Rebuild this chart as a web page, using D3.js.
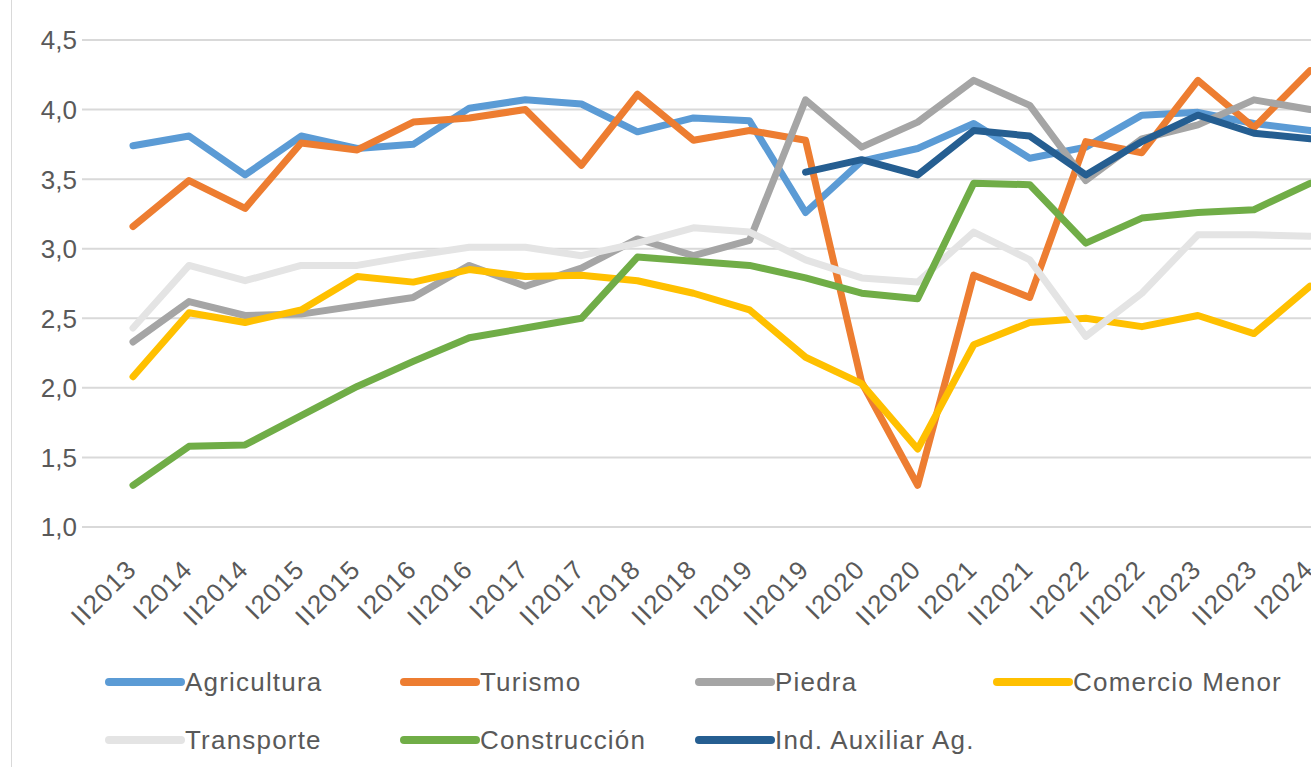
<!DOCTYPE html>
<html lang="es">
<head>
<meta charset="utf-8">
<title>Indicadores por sector</title>
<script src="https://d3js.org/d3.v7.min.js"></script>
<style>
  body { margin: 0; background: #fff; }
  svg { display: block; font-family: "Liberation Sans", Arial, sans-serif; }
  .tick-label { fill: #595959; font-size: 26px; }
  .legend-label { fill: #595959; font-size: 26px; letter-spacing: 1.2px; }
</style>
</head>
<body>
<div id="chart"></div>
<script>
const periods = ["II2013","I2014","II2014","I2015","II2015","I2016","II2016","I2017","II2017","I2018","II2018",
                 "I2019","II2019","I2020","II2020","I2021","II2021","I2022","II2022","I2023","II2023","I2024"];

const agricultura  = [3.74,3.81,3.53,3.81,3.72,3.75,4.01,4.07,4.04,3.84,3.94,3.92,3.26,3.63,3.72,3.90,3.65,3.73,3.96,3.98,3.90,3.85];
const turismo      = [3.16,3.49,3.29,3.76,3.71,3.91,3.94,4.00,3.60,4.11,3.78,3.85,3.78,2.04,1.30,2.81,2.65,3.77,3.69,4.21,3.87,4.28];
const piedra       = [2.33,2.62,2.52,2.53,2.59,2.65,2.88,2.73,2.86,3.07,2.95,3.06,4.07,3.73,3.91,4.21,4.03,3.49,3.79,3.89,4.07,4.00];
const comercio     = [2.08,2.54,2.47,2.56,2.80,2.76,2.85,2.80,2.81,2.77,2.68,2.56,2.22,2.03,1.56,2.31,2.47,2.50,2.44,2.52,2.39,2.73];
const transporte   = [2.43,2.88,2.77,2.88,2.88,2.95,3.01,3.01,2.95,3.04,3.15,3.12,2.92,2.79,2.76,3.12,2.92,2.37,2.68,3.10,3.10,3.09];
const construccion = [1.30,1.58,1.59,1.80,2.01,2.19,2.36,2.43,2.50,2.94,2.91,2.88,2.79,2.68,2.64,3.47,3.46,3.04,3.22,3.26,3.28,3.47];
const auxiliar     = [null,null,null,null,null,null,null,null,null,null,null,null,
                      3.55,3.64,3.53,3.85,3.81,3.53,3.77,3.96,3.83,3.79];

const seriesNames = ["Agricultura","Turismo","Piedra","Comercio Menor","Transporte","Construcción","Ind. Auxiliar Ag."];
const seriesColors = ["#5B9BD5","#ED7D31","#A5A5A5","#FFC000","#E4E4E4","#70AD47","#255E91"];
const yTicks = [1.0,1.5,2.0,2.5,3.0,3.5,4.0,4.5];

const series = [agricultura, turismo, piedra, comercio, transporte, construccion, auxiliar]
  .map((vals, i) => ({ name: seriesNames[i], color: seriesColors[i], values: vals }));

const width = 1311, height = 767;
const svg = d3.select("#chart").append("svg")
    .attr("width", width)
    .attr("height", height);

// frame line on the left
svg.append("line")
    .attr("x1", 11.5).attr("x2", 11.5)
    .attr("y1", 0).attr("y2", height)
    .attr("stroke", "#D9D9D9").attr("stroke-width", 1);

const x = d3.scalePoint().domain(periods).range([133, 1310]);
const y = d3.scaleLinear().domain([1, 4.5]).range([527, 40]);

// gridlines
svg.append("g")
  .selectAll("line")
  .data(yTicks)
  .join("line")
    .attr("x1", 82).attr("x2", width)
    .attr("y1", d => y(d)).attr("y2", d => y(d))
    .attr("stroke", "#D9D9D9").attr("stroke-width", 2);

// y labels
const fmt = d3.format(".1f");
svg.append("g")
  .selectAll("text")
  .data(yTicks)
  .join("text")
    .attr("class", "tick-label")
    .attr("x", 77)
    .attr("y", d => y(d))
    .attr("dy", "0.36em")
    .attr("text-anchor", "end")
    .text(d => fmt(d).replace(".", ","));

// x labels
svg.append("g")
  .selectAll("text")
  .data(periods)
  .join("text")
    .attr("class", "tick-label")
    .attr("text-anchor", "end")
    .attr("letter-spacing", "1.2px")
    .attr("transform", d => "translate(" + (x(d) + 5) + ",571) rotate(-45)")
    .text(d => d);

const line = d3.line()
    .defined(d => d.v != null)
    .x(d => x(d.p))
    .y(d => y(d.v));

svg.append("g")
  .selectAll("path")
  .data(series)
  .join("path")
    .attr("fill", "none")
    .attr("stroke", d => d.color)
    .attr("stroke-width", 7)
    .attr("stroke-linejoin", "round")
    .attr("stroke-linecap", "round")
    .attr("d", d => line(d.values.map((v, i) => ({ p: periods[i], v: v }))));

// legend
const legendCols = [109, 404, 699, 997];
const legendRows = [682, 740];
const legend = svg.append("g")
  .selectAll("g")
  .data(series)
  .join("g")
    .attr("transform", (d, i) => "translate(" + legendCols[i % 4] + "," + legendRows[Math.floor(i / 4)] + ")");

legend.append("line")
    .attr("x1", 0).attr("x2", 72)
    .attr("stroke", d => d.color)
    .attr("stroke-width", 8)
    .attr("stroke-linecap", "round");

legend.append("text")
    .attr("class", "legend-label")
    .attr("x", 76)
    .attr("dy", "0.36em")
    .text(d => d.name);
</script>
</body>
</html>
